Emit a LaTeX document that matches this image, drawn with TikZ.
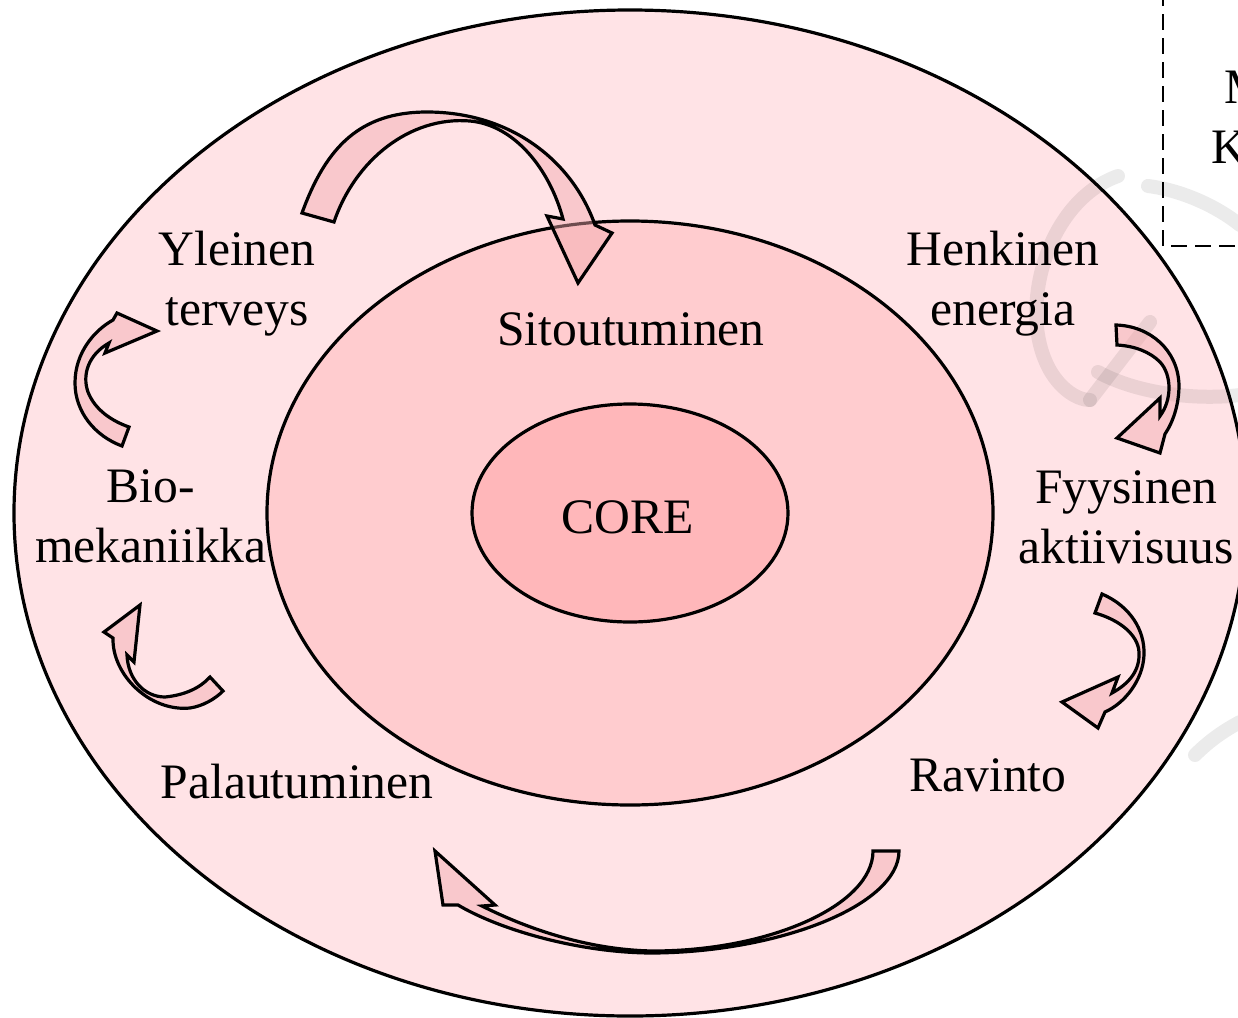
\documentclass[tikz,border=0pt]{standalone}
\usepackage{fontspec}
\setmainfont{Liberation Serif}
\definecolor{outerpink}{HTML}{FFE3E6}
\definecolor{midpink}{HTML}{FFCCCF}
\definecolor{corepink}{HTML}{FFB7BA}
\definecolor{arrowpink}{HTML}{F2A9AD}

\begin{document}
\begin{tikzpicture}[x=0.5pt, y=-0.5pt,
    ring/.style={draw=black, line width=1.6pt},
    bendarrow/.style={draw=black, line width=1.6pt, fill=arrowpink, fill opacity=0.45},
    wmark/.style={draw=black, draw opacity=0.08, line width=7pt, line cap=round},
    lbl/.style={anchor=base, align=center, inner sep=0pt,
                font=\fontsize{24.8}{30}\selectfont}]

    % 1. Page size and clipping
    \useasboundingbox (0,0) rectangle (1238,1018);
    \clip (0,0) rectangle (1238,1018);

    % 2. The three rings round the centre O
    \coordinate (O) at (630,513);
    \draw[ring, fill=outerpink] (O) ellipse (616 and 503);
    \draw[ring, fill=midpink] (O) ellipse (363 and 292);
    \draw[ring, fill=corepink] (O) ellipse (158 and 109);

    % 3. Faint watermark strokes
    \draw[wmark] (1118,176) .. controls (1050,200) and (1020,300) .. (1045,360)
                 .. controls (1055,385) and (1075,400) .. (1090,400);
    \draw[wmark] (1090,400) -- (1150,322);
    \draw[wmark] (1098,372) .. controls (1140,395) and (1200,400) .. (1240,395);
    \draw[wmark] (1148,186) .. controls (1180,190) and (1215,205) .. (1240,225);
    \draw[wmark] (1195,755) .. controls (1210,740) and (1225,730) .. (1240,722);

    % 4. Dashed box in the corner
    \draw[line width=1pt, dash pattern=on 8pt off 4pt] (1163,-10) -- (1163,246) -- (1250,246);
    \node[lbl, anchor=base west] (mline) at (1224,103) {M};
    \node[lbl, anchor=base west] (kline) at (1211,163) {K};

    % 5. Curved block arrows
    \draw[bendarrow] (302,213) .. controls (326,147) and (360,112) .. (427,112)
        .. controls (510,112) and (572,160) .. (595,225) -- (612,233) -- (578,283)
        -- (547,216) -- (563,219) .. controls (550,170) and (515,125) .. (470,121)
        .. controls (410,116) and (355,160) .. (334,222) -- cycle;           % top

    \draw[bendarrow] (129,427) -- (122,446) .. controls (95,436) and (75,412) .. (75,383)
        .. controls (75,352) and (95,330) .. (113,320) -- (117,313) -- (157,331)
        -- (105,353) -- (109,343) .. controls (88,355) and (82,375) .. (88,392)
        .. controls (95,410) and (112,421) .. (129,427) -- cycle;            % left up

    \draw[bendarrow] (140,605) -- (104,632) -- (113,638)
        .. controls (112,675) and (150,712) .. (190,708)
        .. controls (203,706) and (215,699) .. (223,691) -- (210,677)
        .. controls (200,688) and (185,695) .. (165,697)
        .. controls (145,697) and (128,680) .. (127,655) -- (134,662) -- cycle; % left down

    \draw[bendarrow] (1116,325) .. controls (1150,326) and (1178,350) .. (1179,385)
        .. controls (1179,405) and (1173,422) .. (1165,434) -- (1160,453) -- (1117,438)
        -- (1160,398) -- (1160,416) .. controls (1172,400) and (1172,375) .. (1160,362)
        .. controls (1150,352) and (1135,346) .. (1117,345) -- cycle;        % right up

    \draw[bendarrow] (1102,594) .. controls (1130,606) and (1145,630) .. (1144,655)
        .. controls (1143,680) and (1125,703) .. (1105,712) -- (1098,728) -- (1062,702)
        -- (1118,677) -- (1112,693) .. controls (1130,683) and (1140,670) .. (1139,652)
        .. controls (1138,635) and (1120,620) .. (1095,613) -- cycle;        % right down

    \draw[bendarrow] (899,851) .. controls (899,905) and (780,952) .. (653,953)
        .. controls (580,953) and (500,930) .. (458,905) -- (443,905) -- (435,851)
        -- (495,905) -- (482,906) .. controls (530,930) and (590,950) .. (653,951)
        .. controls (770,951) and (873,905) .. (873,851) -- cycle;           % bottom

    % 6. Labels (two-line labels sit on their last line)
    \node[lbl] (yleinen) at (237,325) {Yleinen\\terveys};
    \node[lbl] (henkinen) at (1003,325) {Henkinen\\energia};
    \node[lbl] (sitout) at (631,345) {Sitoutuminen};
    \node[lbl] (bio) at (151,562) {Bio-\\mekaniikka};
    \node[lbl] (core) at (628,533) {CORE};
    \node[lbl] (fyys) at (1126,563) {Fyysinen\\aktiivisuus};
    \node[lbl] (palaut) at (297,798) {Palautuminen};
    \node[lbl] (ravinto) at (988,791) {Ravinto};

\end{tikzpicture}
\end{document}
